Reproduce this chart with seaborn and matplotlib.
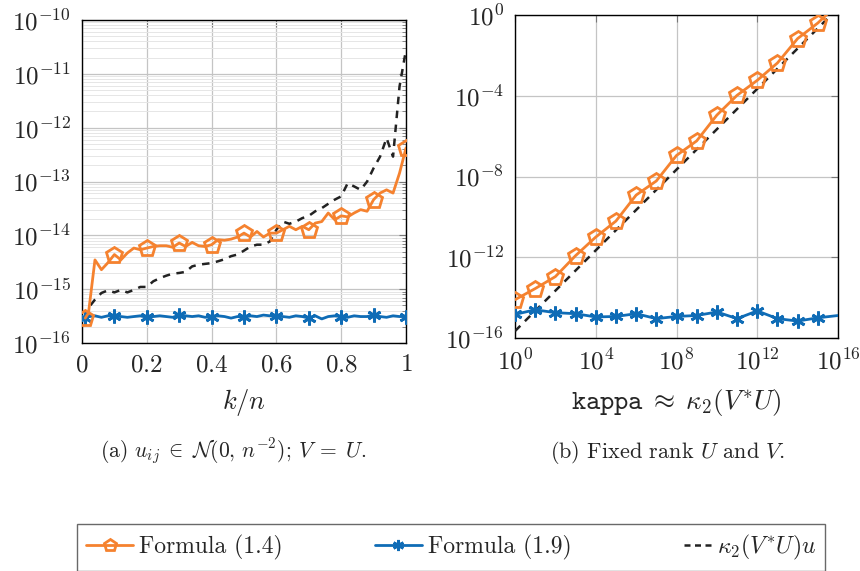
import matplotlib
matplotlib.use("Agg")
import matplotlib.pyplot as plt
import seaborn as sns
import numpy as np
from matplotlib.lines import Line2D

# ---------------- data ----------------
# left panel: k/n
kn = [0.01, 0.02, 0.04, 0.06, 0.08, 0.10, 0.12, 0.14, 0.16, 0.18, 0.20,
      0.22, 0.24, 0.26, 0.28, 0.30, 0.32, 0.34, 0.36, 0.38, 0.40,
      0.42, 0.44, 0.46, 0.48, 0.50, 0.52, 0.54, 0.56, 0.58, 0.60,
      0.62, 0.64, 0.66, 0.68, 0.70, 0.72, 0.74, 0.76, 0.78, 0.80,
      0.82, 0.84, 0.86, 0.88, 0.90, 0.92, 0.94, 0.96, 0.98, 1.00]
left_f14 = [2.9e-16, 3.6e-16, 3.5e-15, 2.3e-15, 3.1e-15, 4.4e-15, 3.5e-15, 4.7e-15, 5.8e-15, 5.4e-15, 5.8e-15,
            6.2e-15, 6.4e-15, 6.4e-15, 6.0e-15, 7.2e-15, 6.2e-15, 7.4e-15, 6.4e-15, 6.2e-15, 6.7e-15,
            8.3e-15, 8.1e-15, 8.5e-15, 9.3e-15, 1.1e-14, 9.3e-15, 1.18e-14, 9.3e-15, 1.1e-14, 1.1e-14,
            1.27e-14, 1.47e-14, 1.27e-14, 1.47e-14, 1.27e-14, 1.69e-14, 1.8e-14, 2.6e-14, 1.95e-14, 2.3e-14,
            2.2e-14, 2.6e-14, 3.0e-14, 2.8e-14, 4.6e-14, 6.1e-14, 7.0e-14, 6.1e-14, 1.43e-13, 4.2e-13]
left_f19 = [2.9e-16, 3.1e-16, 3.2e-16, 3.0e-16, 3.2e-16, 3.2e-16, 3.1e-16, 3.0e-16, 3.1e-16, 3.2e-16, 3.0e-16,
            3.1e-16, 3.2e-16, 3.1e-16, 3.0e-16, 3.3e-16, 3.2e-16, 3.1e-16, 3.2e-16, 3.0e-16, 3.1e-16,
            3.2e-16, 3.1e-16, 2.9e-16, 3.1e-16, 3.0e-16, 3.2e-16, 3.1e-16, 3.3e-16, 3.2e-16, 3.2e-16,
            3.1e-16, 3.0e-16, 3.2e-16, 3.1e-16, 2.9e-16, 3.2e-16, 2.8e-16, 3.1e-16, 3.2e-16, 3.1e-16,
            3.0e-16, 3.2e-16, 3.1e-16, 3.1e-16, 3.3e-16, 3.1e-16, 3.0e-16, 3.2e-16, 3.1e-16, 3.1e-16]
left_kappa_u = [2.9e-16, 4.5e-16, 6.4e-16, 8.5e-16, 9.5e-16, 8.7e-16, 9.7e-16, 8.7e-16, 9.7e-16, 1.1e-15, 1.1e-15,
                1.4e-15, 1.6e-15, 1.78e-15, 1.94e-15, 2.0e-15, 2.1e-15, 2.65e-15, 2.85e-15, 2.95e-15, 3.05e-15,
                3.3e-15, 3.6e-15, 4.1e-15, 4.4e-15, 5.2e-15, 6.2e-15, 6.7e-15, 6.7e-15, 7.7e-15, 1.27e-14,
                1.8e-14, 1.64e-14, 1.8e-14, 2.09e-14, 2.3e-14, 2.8e-14, 3.2e-14, 3.85e-14, 4.6e-14, 5.3e-14,
                9.3e-14, 8.1e-14, 7.0e-14, 1.0e-13, 1.77e-13, 2.9e-13, 6.4e-13, 2.9e-13, 5.8e-12, 2.8e-11]

# right panel: kappa
kappa = [1e0, 1e1, 1e2, 1e3, 1e4, 1e5, 1e6, 1e7, 1e8, 1e9, 1e10, 1e11, 1e12, 1e13, 1e14, 1e15, 1e16]
right_f14 = [7.9e-15, 2.8e-14, 1.1e-13, 1.2e-12, 1.0e-11, 6.2e-11, 1.2e-9, 6.0e-9, 1.1e-7, 5.8e-7,
             1.1e-5, 1.05e-4, 5.8e-4, 4.2e-3, 6.8e-2, 0.40, 3.5]
right_f19 = [1.48e-15, 2.5e-15, 1.8e-15, 1.6e-15, 1.1e-15, 1.17e-15, 1.6e-15, 9.1e-16, 1.17e-15, 1.3e-15,
             1.95e-15, 9.1e-16, 2.2e-15, 9.1e-16, 6.9e-16, 1.0e-15, 1.3e-15]
right_kappa_u = [2.2e-16, 2.2e-15, 2.2e-14, 2.2e-13, 2.2e-12, 2.2e-11, 2.2e-10, 2.2e-9, 2.2e-8, 2.2e-7,
                 2.2e-6, 2.2e-5, 2.2e-4, 2.2e-3, 2.2e-2, 2.2e-1, 2.2e0]

left_xticks = [0, 0.2, 0.4, 0.6, 0.8, 1.0]
left_xticklabels = ["$0$", "$0.2$", "$0.4$", "$0.6$", "$0.8$", "$1$"]
left_yticks = [1e-16, 1e-15, 1e-14, 1e-13, 1e-12, 1e-11, 1e-10]
left_yticklabels = ["$10^{-16}$", "$10^{-15}$", "$10^{-14}$", "$10^{-13}$", "$10^{-12}$", "$10^{-11}$", "$10^{-10}$"]
right_xticks = [1e0, 1e4, 1e8, 1e12, 1e16]
right_xticklabels = ["$10^{0}$", "$10^{4}$", "$10^{8}$", "$10^{12}$", "$10^{16}$"]
right_yticks = [1e-16, 1e-12, 1e-8, 1e-4, 1e0]
right_yticklabels = ["$10^{-16}$", "$10^{-12}$", "$10^{-8}$", "$10^{-4}$", "$10^{0}$"]

labels = ["Formula (1.4)", "Formula (1.9)", r"$\kappa_2(V^{*}U)u$"]

# ---------------- style ----------------
sns.set_theme(style="white")
plt.rcParams.update({
    "font.family": ["cmr10", "DejaVu Serif"],
    "mathtext.fontset": "cm",
    "axes.formatter.use_mathtext": True,
    "axes.unicode_minus": False,
})

ORANGE = "#F5822F"
BLUE = "#0F6CB6"
BLACK = "#222222"
TICK_FS = 18
P_MS = 12
A_MS = 10

fig = plt.figure(figsize=(8.6, 5.71), dpi=100)
axL = fig.add_axes([82/860, 1-343/571, 324/860, 323/571])
axR = fig.add_axes([515/860, 1-338/571, 323/860, 323/571])

mk_left = list(range(0, 51, 5))
mk_right = list(range(16))

def style_axes(ax):
    for s in ax.spines.values():
        s.set_color("black")
        s.set_linewidth(1.0)
    ax.tick_params(which="both", direction="in", top=True, right=True,
                   color="#777777", labelsize=TICK_FS, pad=8)
    ax.tick_params(which="major", length=5, width=0.8)
    ax.tick_params(which="minor", length=3, width=0.6)

# left
sns.lineplot(x=kn, y=left_kappa_u, ax=axL, color=BLACK, lw=1.8,
             linestyle=(0, (3, 2.6)), sort=False, zorder=3)
sns.lineplot(x=kn, y=left_f19, ax=axL, color=BLUE, lw=2.0, marker=(6, 2, 0),
             markersize=A_MS, markeredgewidth=2.0, markeredgecolor=BLUE,
             markevery=mk_left, sort=False, zorder=4)
sns.lineplot(x=kn, y=left_f14, ax=axL, color=ORANGE, lw=2.0, marker="p",
             markersize=P_MS, markeredgewidth=2.0, markerfacecolor="none",
             markeredgecolor=ORANGE, markevery=mk_left, sort=False, zorder=5)
axL.set_yscale("log")
axL.set_xlim(0, 1)
axL.set_ylim(1e-16, 1e-10)
axL.set_xticks(left_xticks)
axL.set_xticklabels(left_xticklabels)
axL.set_yticks(left_yticks)
axL.set_yticklabels(left_yticklabels)
axL.yaxis.set_minor_locator(matplotlib.ticker.LogLocator(base=10, subs=np.arange(2, 10), numticks=20))
axL.yaxis.set_minor_formatter(matplotlib.ticker.NullFormatter())
axL.grid(True, which="major", color="#c4c4c4", lw=0.9)
axL.grid(True, which="minor", axis="y", color="#e6e6e6", lw=0.7)
axL.set_axisbelow(True)
style_axes(axL)
axL.set_xlabel("$k/n$", fontsize=19, labelpad=8)
axL.set_ylabel("")

# right
sns.lineplot(x=kappa, y=right_kappa_u, ax=axR, color=BLACK, lw=1.8,
             linestyle=(0, (3, 2.6)), sort=False, zorder=3)
sns.lineplot(x=kappa, y=right_f19, ax=axR, color=BLUE, lw=2.0, marker=(6, 2, 0),
             markersize=A_MS, markeredgewidth=2.0, markeredgecolor=BLUE,
             markevery=mk_right, sort=False, zorder=4)
sns.lineplot(x=kappa, y=right_f14, ax=axR, color=ORANGE, lw=2.0, marker="p",
             markersize=P_MS, markeredgewidth=2.0, markerfacecolor="none",
             markeredgecolor=ORANGE, markevery=mk_right, sort=False, zorder=5)
axR.set_xscale("log")
axR.set_yscale("log")
axR.set_xlim(1e0, 1e16)
axR.set_ylim(1e-16, 1e0)
axR.set_xticks(right_xticks)
axR.set_xticklabels(right_xticklabels)
axR.set_yticks(right_yticks)
axR.set_yticklabels(right_yticklabels)
axR.xaxis.set_minor_locator(matplotlib.ticker.NullLocator())
axR.yaxis.set_minor_locator(matplotlib.ticker.NullLocator())
axR.grid(True, which="major", color="#c4c4c4", lw=0.9)
axR.set_axisbelow(True)
style_axes(axR)
axR.set_xlabel(r"$\mathtt{kappa} \;\approx\; \kappa_2(V^{*}U)$", fontsize=19.5, labelpad=9)
axR.set_ylabel("")

for ax in (axL, axR):
    lg = ax.get_legend()
    if lg is not None:
        lg.remove()

# captions
fig.text(233/860, 1-452/571, r"(a) $u_{ij} \;\in\; \mathcal{N}(0,\, n^{-2})$; $V \;=\; U$.",
         ha="center", va="center", fontsize=15.5)
fig.text(668/860, 1-452/571, r"(b) Fixed rank $U$ and $V$.",
         ha="center", va="center", fontsize=16)

# legend
h14 = Line2D([], [], color=ORANGE, lw=2.0, marker="p", markersize=9, markeredgewidth=2.0,
             markerfacecolor="none", markeredgecolor=ORANGE)
h19 = Line2D([], [], color=BLUE, lw=2.0, marker=(6, 2, 0), markersize=8,
             markeredgewidth=2.0, markeredgecolor=BLUE)
hk = Line2D([], [], color=BLACK, lw=1.8, linestyle=(14.8, (2.4, 1.8, 2.4, 1.8, 2.4, 12)))
leg = fig.legend([h14, h19, hk], labels, loc="center",
                 bbox_to_anchor=(75/860, 1/571, 752/860, 45/571),
                 ncol=3, frameon=True, fancybox=False, edgecolor="#444444",
                 fontsize=17, handlelength=2.0, handletextpad=0.25,
                 columnspacing=3.9, borderpad=0.4, borderaxespad=0, numpoints=1)
leg.get_frame().set_linewidth(1.0)

fig.savefig("out.png", dpi=100)
